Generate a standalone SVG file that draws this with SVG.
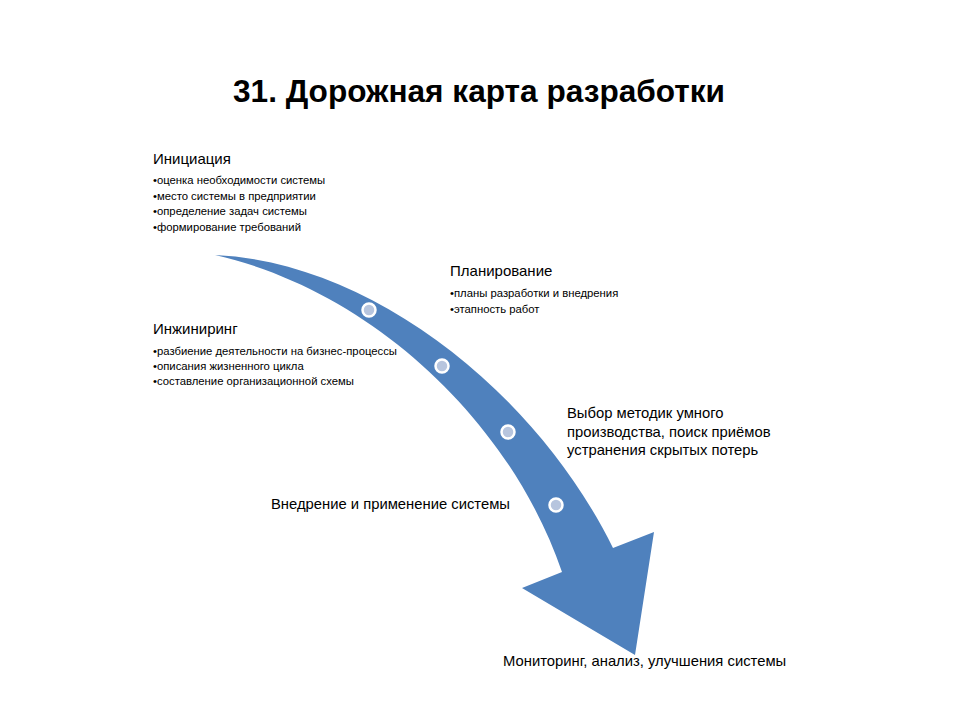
<svg xmlns="http://www.w3.org/2000/svg" width="960" height="720" viewBox="0 0 960 720">
<style>
.title{font-family:"Liberation Sans",Arial,sans-serif;font-weight:bold;font-size:31.6px;fill:#000}
.hd{font-family:"Liberation Sans",Arial,sans-serif;font-size:15px;fill:#000}
.bl{font-family:"Liberation Sans",Arial,sans-serif;font-size:11.3px;fill:#000}
.tx{font-family:"Liberation Sans",Arial,sans-serif;font-size:14.8px;fill:#000}
.dot{fill:#B7C5DE;stroke:#fff;stroke-width:2.5}
</style>
<rect width="960" height="720" fill="#fff"/>
<text class="title" x="233" y="102">31. Дорожная карта разработки</text>
<g id="connectors">
<path id="arrow" d="M215,255 C370,262 535,390 613,548 L654,532 L635,655 L522,588 L562,572 C510,420 370,290 215,255 Z" fill="#4F81BD"/>
</g>
<g id="dots">
<circle class="dot" cx="369" cy="310" r="6.5"/>
<circle class="dot" cx="442" cy="366" r="6.5"/>
<circle class="dot" cx="508" cy="432" r="6.5"/>
<circle class="dot" cx="556" cy="505" r="6.5"/>
</g>
<g id="node-init">
<text class="hd" x="153" y="164">Инициация</text>
<text class="bl" x="153" y="184">•оценка необходимости системы</text>
<text class="bl" x="153" y="200">•место системы в предприятии</text>
<text class="bl" x="153" y="215">•определение задач системы</text>
<text class="bl" x="153" y="231">•формирование требований</text>
</g>
<g id="node-plan">
<text class="hd" x="450" y="276">Планирование</text>
<text class="bl" x="450" y="297">•планы разработки и внедрения</text>
<text class="bl" x="450" y="313">•этапность работ</text>
</g>
<g id="node-eng">
<text class="hd" x="153" y="334">Инжиниринг</text>
<text class="bl" x="153" y="355">•разбиение деятельности на бизнес-процессы</text>
<text class="bl" x="153" y="370">•описания жизненного цикла</text>
<text class="bl" x="153" y="385">•составление организационной схемы</text>
</g>
<g id="node-method">
<text class="tx" x="567" y="418">Выбор методик умного</text>
<text class="tx" x="567" y="437">производства, поиск приёмов</text>
<text class="tx" x="567" y="455">устранения скрытых потерь</text>
</g>
<g id="node-impl">
<text class="tx" x="271" y="509">Внедрение и применение системы</text>
</g>
<g id="node-mon">
<text class="tx" x="503" y="666">Мониторинг, анализ, улучшения системы</text>
</g>
</svg>
